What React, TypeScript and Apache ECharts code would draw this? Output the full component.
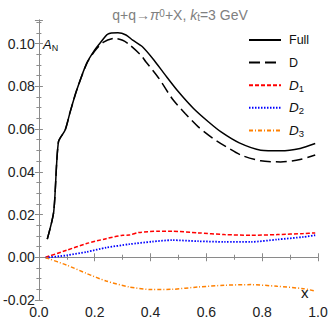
import React, { useEffect, useRef } from "react";
import * as echarts from "echarts";

const xFull = [0.03, 0.053, 0.07, 0.094, 0.112, 0.135, 0.171, 0.2, 0.218, 0.247, 0.283, 0.312, 0.336, 0.371, 0.412, 0.453, 0.5, 0.554, 0.607, 0.654, 0.718, 0.795, 0.866, 0.936, 0.99];
const yFull = [0.0085, 0.0212, 0.054, 0.0595, 0.068, 0.078, 0.0907, 0.097, 0.1, 0.1044, 0.105, 0.104, 0.1016, 0.0985, 0.0923, 0.0852, 0.0774, 0.0696, 0.0634, 0.0585, 0.0535, 0.0501, 0.0498, 0.0509, 0.0532];

const xD = [0.03, 0.053, 0.07, 0.094, 0.112, 0.135, 0.171, 0.2, 0.23, 0.271, 0.3, 0.324, 0.365, 0.383, 0.43, 0.477, 0.524, 0.571, 0.624, 0.671, 0.724, 0.795, 0.866, 0.936, 0.99];
const yD = [0.0085, 0.0212, 0.054, 0.0595, 0.068, 0.078, 0.0905, 0.0965, 0.1005, 0.1024, 0.1015, 0.0995, 0.0946, 0.0915, 0.0837, 0.0743, 0.0673, 0.061, 0.0556, 0.0517, 0.0478, 0.0451, 0.0446, 0.0457, 0.0478];

const xD1 = [0.024, 0.1, 0.171, 0.241, 0.3, 0.324, 0.359, 0.43, 0.477, 0.571, 0.665, 0.76, 0.854, 0.948, 0.99];
const yD1 = [0.0, 0.0033, 0.0064, 0.0087, 0.0103, 0.0104, 0.0116, 0.0122, 0.0122, 0.0114, 0.0106, 0.0103, 0.0106, 0.0111, 0.0114];

const xD23 = [0.024, 0.1, 0.171, 0.241, 0.324, 0.406, 0.477, 0.571, 0.665, 0.76, 0.854, 0.948, 0.99];
const yD2 = [-0.0002, 0.0009, 0.0025, 0.0045, 0.0061, 0.0073, 0.008, 0.0075, 0.0072, 0.0072, 0.0083, 0.0095, 0.0103];
const yD3 = [-0.0002, -0.0037, -0.0076, -0.0111, -0.0139, -0.0151, -0.015, -0.0139, -0.0131, -0.0128, -0.0136, -0.0147, -0.0158];

const seriesNames = ["Full", "D", "D1", "D2", "D3"];
const legendLabels: Record<string, string> = {
  Full: "Full",
  D: "D",
  D1: "{i|D}{sub|1}",
  D2: "{i|D}{sub|2}",
  D3: "{i|D}{sub|3}",
};

const zip = (xs: number[], ys: number[]) => xs.map((x, i) => [x, ys[i]]);

export default function App() {
  const ref = useRef<HTMLDivElement>(null);
  useEffect(() => {
    if (!ref.current) return;
    const chart = echarts.init(ref.current, undefined, { renderer: "svg" });
    const font = "Liberation Sans, Arial, sans-serif";
    const frameColor = "#8a8a8a";
    const mkSeries = (name: string, data: number[][], color: string, type: any, width: number) => ({
      name,
      type: "line",
      data,
      symbol: "none",
      smooth: 0.25,
      lineStyle: { color, type, width },
      itemStyle: { color },
      z: 3,
    });
    chart.setOption({
      animation: false,
      textStyle: { fontFamily: font },
      title: {
        text: "q+q→{i|π}{sup|0}+X, {i|k}{sub|t}=3 GeV",
        left: 175,
        top: 3,
        textAlign: "center",
        textStyle: {
          fontFamily: font,
          fontSize: 14,
          fontWeight: "normal",
          color: "#808080",
          rich: {
            i: { fontStyle: "italic", fontSize: 14, color: "#808080", fontFamily: font },
            sup: { fontSize: 10, color: "#808080", verticalAlign: "top", fontFamily: font },
            sub: { fontSize: 10, color: "#808080", verticalAlign: "bottom", fontFamily: font },
          },
        },
      },
      legend: {
        orient: "vertical",
        left: 243,
        top: 27,
        itemWidth: 32,
        itemHeight: 16,
        itemGap: 6.6,
        selectedMode: false,
        data: seriesNames,
        itemStyle: { opacity: 0 },
        formatter: (name: string) => legendLabels[name],
        textStyle: {
          fontFamily: font,
          fontSize: 12.5,
          color: "#111",
          lineHeight: 16,
          padding: [0, 0, 0, 3],
          rich: {
            i: { fontStyle: "italic", fontSize: 13.5, color: "#111", fontFamily: font, lineHeight: 16 },
            sub: { fontSize: 9.5, color: "#111", fontFamily: font, verticalAlign: "bottom", lineHeight: 16 },
          },
        },
      },
      grid: { left: 35, right: 14, top: 20, bottom: 22, containLabel: false },
      xAxis: [
        {
          type: "value",
          min: 0,
          max: 1,
          interval: 0.2,
          position: "bottom",
          axisLine: { show: true, lineStyle: { color: frameColor, width: 1 } },
          axisTick: { show: true, inside: true, length: 4, lineStyle: { color: frameColor } },
          minorTick: { show: true, splitNumber: 2, length: 2.5, lineStyle: { color: frameColor } },
          axisLabel: { fontSize: 14, color: "#222", margin: 5, fontFamily: font, formatter: (v: number) => v.toFixed(1) },
          splitLine: { show: false },
        },
        {
          type: "value",
          min: 0,
          max: 1,
          interval: 0.2,
          position: "top",
          axisLine: { show: true, lineStyle: { color: frameColor, width: 1 } },
          axisTick: { show: true, inside: true, length: 4, lineStyle: { color: frameColor } },
          minorTick: { show: true, splitNumber: 2, length: 2.5, lineStyle: { color: frameColor } },
          axisLabel: { show: false },
          splitLine: { show: false },
        },
      ],
      yAxis: [
        {
          type: "value",
          min: -0.02,
          max: 0.111,
          interval: 0.02,
          position: "left",
          axisLine: { show: true, lineStyle: { color: frameColor, width: 1 } },
          axisTick: { show: true, inside: true, length: 4, lineStyle: { color: frameColor } },
          minorTick: { show: true, splitNumber: 4, length: 2.5, lineStyle: { color: frameColor } },
          axisLabel: {
            fontSize: 14,
            color: "#222",
            margin: 4,
            fontFamily: font,
            showMaxLabel: false,
            formatter: (v: number) => v.toFixed(2),
          },
          splitLine: { show: false },
        },
        {
          type: "value",
          min: -0.02,
          max: 0.111,
          interval: 0.02,
          position: "right",
          axisLine: { show: true, lineStyle: { color: frameColor, width: 1 } },
          axisTick: { show: true, inside: true, length: 4, lineStyle: { color: frameColor } },
          minorTick: { show: true, splitNumber: 4, length: 2.5, lineStyle: { color: frameColor } },
          axisLabel: { show: false },
          splitLine: { show: false },
        },
      ],
      graphic: [
        {
          type: "text",
          x: 43,
          y: 36,
          style: {
            text: "{i|A}{sub|N}",
            rich: {
              i: { fontStyle: "italic", fontSize: 13, fill: "#111", fontFamily: font, lineHeight: 16 },
              sub: { fontSize: 9, fill: "#111", fontFamily: font, verticalAlign: "bottom", lineHeight: 16 },
            },
          },
        },
        {
          type: "text",
          x: 301,
          y: 285,
          style: { text: "x", fontSize: 15, fill: "#111", fontFamily: font },
        },
      ],
      series: [
        mkSeries("Full", zip(xFull, yFull), "#000000", "solid", 1.5),
        mkSeries("D", zip(xD, yD), "#000000", [11, 5], 1.5),
        mkSeries("D1", zip(xD1, yD1), "#ff0000", [4, 2], 1.5),
        mkSeries("D2", zip(xD23, yD2), "#0000ff", [1.5, 1.5], 1.8),
        mkSeries("D3", zip(xD23, yD3), "#ff8000", [4, 2, 1, 2], 1.5),
      ],
    });
    return () => chart.dispose();
  }, []);
  return <div ref={ref} style={{ position: "absolute", left: 0, top: 0, width: 332, height: 322 }} />;
}
